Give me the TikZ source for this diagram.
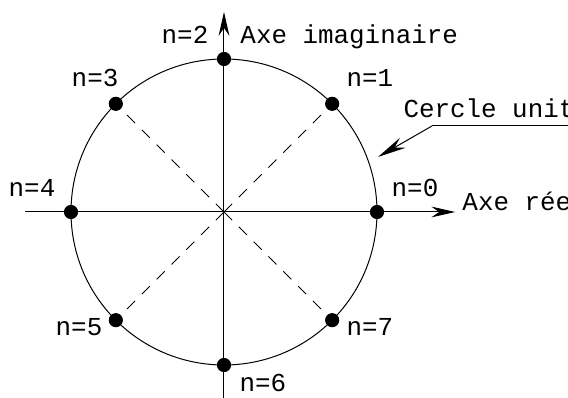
\documentclass[tikz,border=0pt]{standalone}
\usepackage{fontspec}
\setmonofont{Liberation Mono}
\usetikzlibrary{arrows,arrows.meta}
\usetikzlibrary{calc}
\tikzset{>=latex}
\tikzstyle{axis} = [%
					line width = 0.5pt,
					-{Stealth[length=0.42cm, width=0.19cm]}
					]
\tikzstyle{spoke} = [%
					line width = 0.5pt,
					dash pattern = on 0.2cm off 0.17cm]
\tikzstyle{root} = [%
					circle,
					fill = black,
					inner sep = 0pt,
					minimum size = 0.25cm]
\tikzstyle{lbl} = [%
					font = \ttfamily\fontsize{13}{15}\selectfont,
					inner sep = 0pt,
					anchor = base]

\begin{document}
\begin{tikzpicture}[line width=.5pt]

	% Frame
	\useasboundingbox (-3.953,-3.265) rectangle (6.071,3.741);
	\clip (-3.953,-3.265) rectangle (6.071,3.741);

	% Coordinates
	\coordinate (O)  at (0,0);
	\coordinate (W)  at (-3.51,0);
	\coordinate (E)  at (4.08,0);
	\coordinate (S)  at (0,-3.4);
	\coordinate (N)  at (0,3.53);
	\coordinate (T)  at (3.671,1.518);
	\coordinate (T') at (6.2,1.518);
	\coordinate (C)  at (2.718,0.971);

	% Unit circle
	\draw (O) circle (2.7);

	% Axes
	\draw[axis] (W) -- (E);
	\draw[axis] (S) -- (N);

	% Roots
	\foreach \k in {0,...,7}
	{
		\node[root] (r\k) at (\k*45:2.7) {};
	}

	% Spokes
	\foreach \k in {1,3,5,7}
	{
		\draw[spoke] (O) -- (r\k);
	}

	% Labels
	\node[lbl] (n0) at (3.371,0.265)   {n=0};
	\node[lbl] (n1) at (2.576,2.206)   {n=1};
	\node[lbl] (n2) at (-0.688,2.965)  {n=2};
	\node[lbl] (n3) at (-2.276,2.206)  {n=3};
	\node[lbl] (n4) at (-3.388,0.265)  {n=4};
	\node[lbl] (n5) at (-2.559,-2.171) {n=5};
	\node[lbl] (n6) at (0.688,-3.176)  {n=6};
	\node[lbl] (n7) at (2.576,-2.171)  {n=7};
	\node[lbl, anchor=base west] (im) at (0.282,2.982) {Axe imaginaire};
	\node[lbl, anchor=base west] (re) at (4.2,0.018)   {Axe réel};
	\node[lbl, anchor=base west] (cu) at (3.159,1.659) {Cercle unité};

	% Leader
	\draw (T') -- (T);
	\draw[-{Stealth[length=0.5cm, width=0.2cm]}] (T) -- (C);
\end{tikzpicture}
\end{document}
